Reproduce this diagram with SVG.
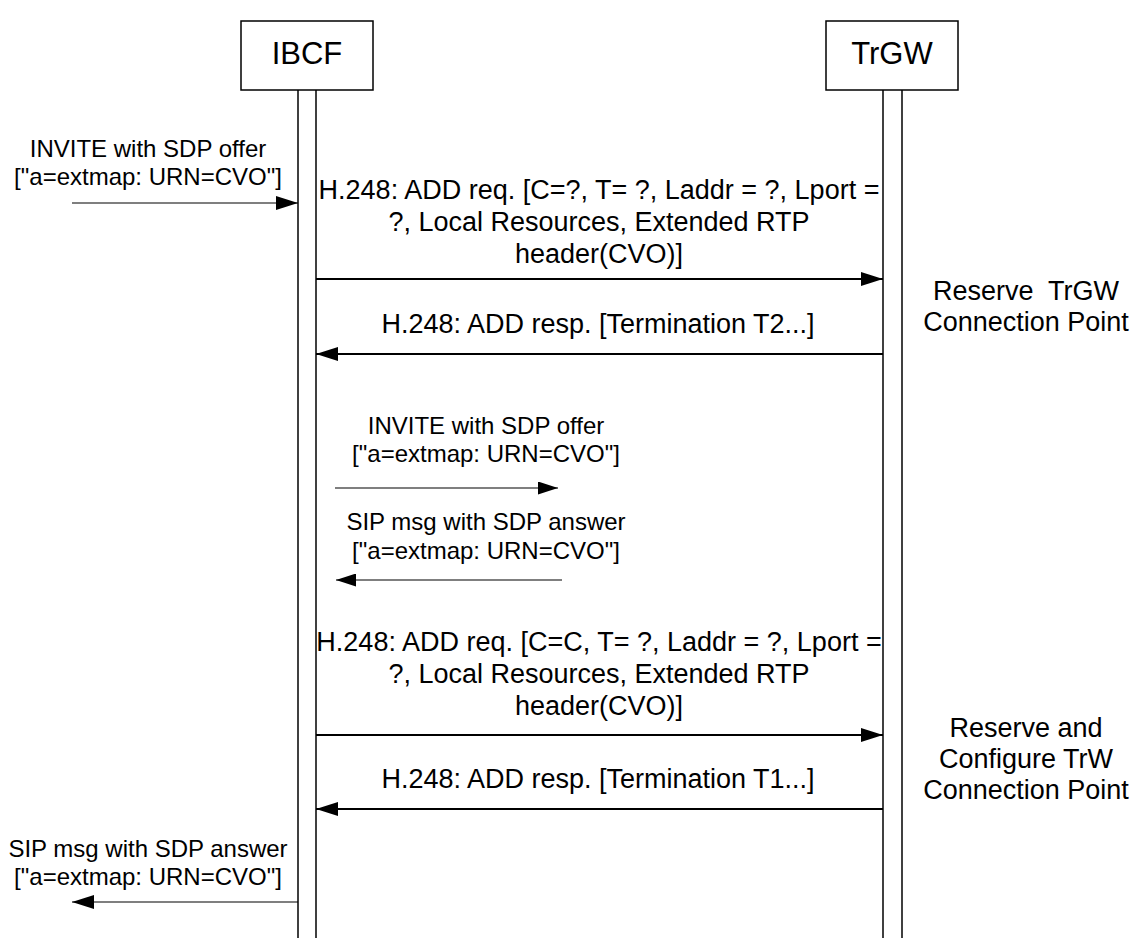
<svg xmlns="http://www.w3.org/2000/svg" width="1132" height="938" viewBox="0 0 1132 938">
<style>
text{font-family:"Liberation Sans",Arial,sans-serif;fill:#000;text-anchor:middle}
.s{font-size:24px}
.m{font-size:27px}
.t{font-size:31px}
.box{fill:#fff;stroke:#000;stroke-width:1.5}
.life{stroke:#000;stroke-width:1.5;fill:none}
.a1{stroke:#000;stroke-width:1.2;fill:none}
.a2{stroke:#000;stroke-width:1.8;fill:none}
</style>
<defs>
<marker id="ah" markerUnits="userSpaceOnUse" markerWidth="22" markerHeight="14" refX="22" refY="7" orient="auto">
<path d="M0,0 L22,7 L0,14 Z" fill="#000"/>
</marker>
<marker id="ahs" markerUnits="userSpaceOnUse" markerWidth="20" markerHeight="13" refX="20" refY="6.5" orient="auto">
<path d="M0,0 L20,6.5 L0,13 Z" fill="#000"/>
</marker>
</defs>
<g id="IBCF">
<rect class="box" x="241" y="21" width="132" height="69"/>
<text class="t" x="307" y="64">IBCF</text>
<line class="life" x1="298" y1="90" x2="298" y2="938"/>
<line class="life" x1="316" y1="90" x2="316" y2="938"/>
</g>
<g id="TrGW">
<rect class="box" x="826" y="21" width="132" height="69"/>
<text class="t" x="892" y="64">TrGW</text>
<line class="life" x1="883" y1="90" x2="883" y2="938"/>
<line class="life" x1="902" y1="90" x2="902" y2="938"/>
</g>
<g id="connectors">
<line class="a1" x1="72" y1="203" x2="298" y2="203" marker-end="url(#ah)"/>
<line class="a2" x1="316" y1="279" x2="883" y2="279" marker-end="url(#ah)"/>
<line class="a2" x1="883" y1="354" x2="316" y2="354" marker-end="url(#ah)"/>
<line class="a1" x1="335" y1="488" x2="558" y2="488" marker-end="url(#ahs)"/>
<line class="a1" x1="562" y1="580" x2="336" y2="580" marker-end="url(#ahs)"/>
<line class="a2" x1="316" y1="735" x2="883" y2="735" marker-end="url(#ah)"/>
<line class="a2" x1="883" y1="809" x2="316" y2="809" marker-end="url(#ah)"/>
<line class="a1" x1="298" y1="902" x2="72" y2="902" marker-end="url(#ah)"/>
</g>
<g id="labels">
<text class="s" x="148" y="157">INVITE with SDP offer</text>
<text class="s" x="148" y="185">["a=extmap: URN=CVO"]</text>
<text class="m" x="599" y="199">H.248: ADD req. [C=?, T= ?, Laddr = ?, Lport =</text>
<text class="m" x="599" y="231">?, Local Resources, Extended RTP</text>
<text class="m" x="599" y="263">header(CVO)]</text>
<text class="m" x="598" y="333">H.248: ADD resp. [Termination T2...]</text>
<text class="m" x="1026" y="300" xml:space="preserve">Reserve  TrGW</text>
<text class="m" x="1026" y="331">Connection Point</text>
<text class="s" x="486" y="434">INVITE with SDP offer</text>
<text class="s" x="486" y="462">["a=extmap: URN=CVO"]</text>
<text class="s" x="486" y="530">SIP msg with SDP answer</text>
<text class="s" x="486" y="559">["a=extmap: URN=CVO"]</text>
<text class="m" x="599" y="651">H.248: ADD req. [C=C, T= ?, Laddr = ?, Lport =</text>
<text class="m" x="599" y="683">?, Local Resources, Extended RTP</text>
<text class="m" x="599" y="715">header(CVO)]</text>
<text class="m" x="598" y="788">H.248: ADD resp. [Termination T1...]</text>
<text class="m" x="1026" y="737">Reserve and</text>
<text class="m" x="1026" y="768">Configure TrW</text>
<text class="m" x="1026" y="799">Connection Point</text>
<text class="s" x="148" y="857">SIP msg with SDP answer</text>
<text class="s" x="148" y="885">["a=extmap: URN=CVO"]</text>
</g>
</svg>
